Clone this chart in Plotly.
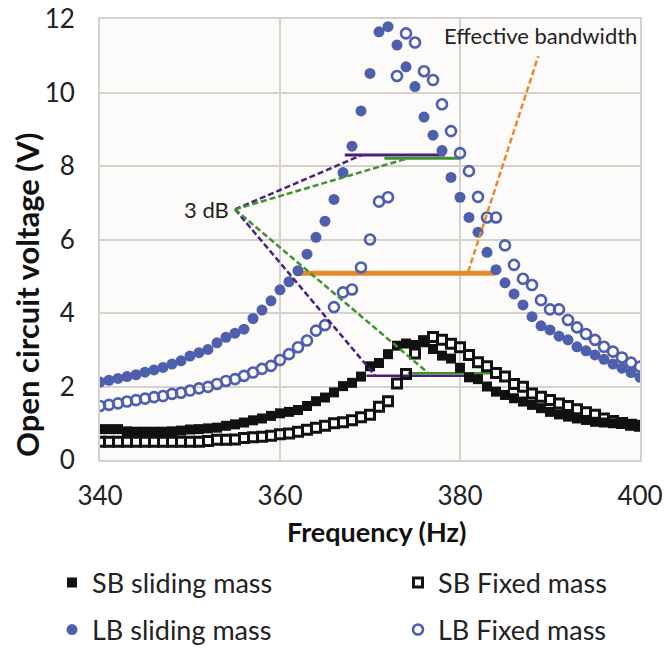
import plotly.graph_objects as go

# ---------------- data ----------------
freq = [340, 341, 342, 343, 344, 345, 346, 347, 348, 349,
        350, 351, 352, 353, 354, 355, 356, 357, 358, 359,
        360, 361, 362, 363, 364, 365, 366, 367, 368, 369,
        370, 371, 372, 373, 374, 375, 376, 377, 378, 379,
        380, 381, 382, 383, 384, 385, 386, 387, 388, 389,
        390, 391, 392, 393, 394, 395, 396, 397, 398, 399, 400]

sb_sliding = [0.84, 0.84, 0.84, 0.78, 0.77, 0.77, 0.77, 0.77, 0.78, 0.80,
              0.83, 0.84, 0.86, 0.88, 0.93, 0.97, 1.02, 1.08, 1.13, 1.20,
              1.27, 1.31, 1.36, 1.47, 1.60, 1.70, 1.84, 2.01, 2.10, 2.27,
              2.55, 2.64, 2.88, 3.11, 3.17, 3.13, 3.25, 3.02, 2.84, 2.76,
              2.51, 2.25, 2.20, 2.00, 1.86, 1.77, 1.68, 1.59, 1.50, 1.41,
              1.31, 1.24, 1.18, 1.13, 1.09, 1.04, 1.02, 1.00, 0.98, 0.95, 0.93]

sb_fixed = [0.50, 0.50, 0.50, 0.50, 0.50, 0.50, 0.50, 0.50, 0.50, 0.50,
            0.50, 0.50, 0.52, 0.55, 0.55, 0.56, 0.60, 0.62, 0.63, 0.66,
            0.70, 0.72, 0.77, 0.82, 0.88, 0.93, 1.00, 1.03, 1.08, 1.16,
            1.23, 1.45, 1.60, 2.08, 2.34, 2.90, 3.23, 3.35, 3.27, 3.16,
            3.07, 2.86, 2.66, 2.55, 2.37, 2.27, 2.07, 1.99, 1.81, 1.72,
            1.63, 1.54, 1.47, 1.38, 1.30, 1.23, 1.13, 1.06, 1.01, 0.96, 0.93]

lb_sliding = [2.12, 2.17, 2.22, 2.27, 2.32, 2.39, 2.45, 2.52, 2.61, 2.70,
              2.83, 2.92, 3.01, 3.19, 3.34, 3.45, 3.56, 3.85, 4.08, 4.33,
              4.63, 4.85, 5.15, 5.60, 6.06, 6.50, 7.09, 7.82, 8.54, 9.50,
              10.52, 11.65, 11.79, 11.29, 10.70, 10.16, 9.33, 8.84, 8.42, 7.69,
              7.15, 6.60, 6.20, 5.65, 5.18, 4.82, 4.52, 4.22, 3.90, 3.65,
              3.54, 3.37, 3.27, 3.08, 2.97, 2.86, 2.74, 2.61, 2.50, 2.38, 2.25]

lb_fixed = [1.47, 1.50, 1.54, 1.59, 1.63, 1.67, 1.71, 1.74, 1.80, 1.83,
            1.89, 1.95, 1.99, 2.07, 2.15, 2.20, 2.29, 2.38, 2.48, 2.56,
            2.72, 2.88, 3.07, 3.25, 3.52, 3.67, 4.16, 4.56, 4.64, 5.24,
            6.00, 7.03, 7.15, 10.45, 11.61, 11.36, 10.58, 10.34, 9.68, 8.95,
            8.35, 7.86, 7.16, 6.60, 6.60, 5.84, 5.31, 4.93, 4.76, 4.35,
            4.10, 4.10, 3.81, 3.61, 3.43, 3.27, 3.08, 2.95, 2.79, 2.65, 2.54]

series_names = ["SB sliding mass", "SB Fixed mass", "LB sliding mass", "LB Fixed mass"]

# 3 dB bandwidth guide lines (frequency, voltage)
lb_sliding_bw_f = [367.2, 378.3]
lb_sliding_bw_v = [8.30, 8.30]
lb_fixed_bw_f = [371.6, 380.0]
lb_fixed_bw_v = [8.21, 8.21]
sb_sliding_bw_f = [369.6, 381.0]
sb_sliding_bw_v = [2.29, 2.29]
sb_fixed_bw_f = [374.2, 383.4]
sb_fixed_bw_v = [2.36, 2.36]
effective_bw_f = [361.8, 383.9]
effective_bw_v = [5.08, 5.08]

label_3db_f, label_3db_v = 355.0, 6.82
leader_sliding_top = (369.1, 8.30)
leader_fixed_top = (374.2, 8.21)
leader_sliding_bot = (370.6, 2.29)
leader_fixed_bot = (376.5, 2.36)
eff_leader_f = [380.9, 388.7]
eff_leader_v = [5.12, 10.99]
eff_label_f, eff_label_v = 388.9, 11.54

# ---------------- styles ----------------
BLUE = "#4e5fae"
PURPLE = "#4b1f80"
GREEN = "#3f9230"
ORANGE = "#e38b2b"
FONT = "Lato"

W, H = 666, 649
L, R, T, B = 100, 26, 19, 189
PW, PH = W - L - R, H - T - B

fig = go.Figure()

# solid bandwidth lines (under markers)
for fx, vy, col, w in [(lb_sliding_bw_f, lb_sliding_bw_v, PURPLE, 3),
                       (lb_fixed_bw_f, lb_fixed_bw_v, GREEN, 3),
                       (sb_sliding_bw_f, sb_sliding_bw_v, PURPLE, 2.5),
                       (sb_fixed_bw_f, sb_fixed_bw_v, GREEN, 2.5),
                       (effective_bw_f, effective_bw_v, ORANGE, 5)]:
    fig.add_trace(go.Scatter(x=fx, y=vy, mode="lines", line=dict(color=col, width=w),
                             showlegend=False, hoverinfo="skip"))

fig.add_trace(go.Scatter(x=freq, y=sb_sliding, mode="markers", name=series_names[0],
                         marker=dict(symbol="square", size=10, color="#111111",
                                     line=dict(width=0)), legend="legend"))
fig.add_trace(go.Scatter(x=freq, y=sb_fixed, mode="markers", name=series_names[1],
                         marker=dict(symbol="square-open", size=9, color="#111111",
                                     line=dict(width=3)), legend="legend3"))
fig.add_trace(go.Scatter(x=freq, y=lb_sliding, mode="markers", name=series_names[2],
                         marker=dict(symbol="circle", size=11, color=BLUE,
                                     line=dict(width=0)), legend="legend2"))
fig.add_trace(go.Scatter(x=freq, y=lb_fixed, mode="markers", name=series_names[3],
                         marker=dict(symbol="circle-open", size=10, color=BLUE,
                                     line=dict(width=2.6)), legend="legend4"))

# dashed leader lines
dash = "6px,3px"
for (tf, tv), col in [(leader_sliding_top, PURPLE), (leader_fixed_top, GREEN),
                      (leader_sliding_bot, PURPLE), (leader_fixed_bot, GREEN)]:
    fig.add_trace(go.Scatter(x=[label_3db_f, tf], y=[label_3db_v, tv], mode="lines",
                             line=dict(color=col, width=2.5, dash=dash),
                             showlegend=False, hoverinfo="skip"))
fig.add_trace(go.Scatter(x=eff_leader_f, y=eff_leader_v, mode="lines",
                         line=dict(color=ORANGE, width=2.5, dash=dash),
                         showlegend=False, hoverinfo="skip"))

fig.add_annotation(x=label_3db_f, y=label_3db_v, text="3 dB", showarrow=False,
                   xanchor="right", yanchor="middle", xshift=-4,
                   font=dict(family=FONT, size=22, color="#222222"))
fig.add_annotation(x=eff_label_f, y=eff_label_v, text="Effective bandwidth", showarrow=False,
                   xanchor="center", yanchor="middle",
                   font=dict(family=FONT, size=22, color="#222222"))
# axis titles placed as in the reference
fig.add_annotation(xref="paper", yref="paper", x=(27 - L) / PW, y=(460 - 295) / PH,
                   text="<b>Open circuit voltage (V)</b>", textangle=-90, showarrow=False,
                   xanchor="center", yanchor="middle",
                   font=dict(family=FONT, size=31, color="#111111"))
fig.add_annotation(xref="paper", yref="paper", x=(376 - L) / PW, y=(460 - 531) / PH,
                   text="<b>Frequency (Hz)</b>", showarrow=False,
                   xanchor="center", yanchor="middle",
                   font=dict(family=FONT, size=27, color="#111111"))

GRID = "#d5d1cc"
fig.update_xaxes(range=[340, 400], tickvals=[340, 360, 380, 400], showgrid=True,
                 gridcolor=GRID, gridwidth=2, showline=True, mirror=True, linecolor=GRID,
                 linewidth=2, zeroline=False, ticks="", ticklabelstandoff=12,
                 automargin=False,
                 tickfont=dict(family=FONT, size=26, color="#222222"))
fig.update_yaxes(range=[0, 12], tickvals=[0, 2, 4, 6, 8, 10, 12], showgrid=True,
                 gridcolor=GRID, gridwidth=2, showline=True, mirror=True, linecolor=GRID,
                 linewidth=2, zeroline=False, ticks="", ticklabelstandoff=18,
                 automargin=False,
                 tickfont=dict(family=FONT, size=26, color="#222222"))

legend_common = dict(orientation="h", xref="container", yref="container",
                     xanchor="left", yanchor="middle",
                     font=dict(family=FONT, size=27, color="#222222"),
                     bgcolor="rgba(0,0,0,0)", itemclick=False, itemdoubleclick=False)
fig.update_layout(
    width=W, height=H,
    margin=dict(l=L, r=R, t=T, b=B, autoexpand=False),
    paper_bgcolor="white", plot_bgcolor="#fcfbf9",
    legend=dict(x=52 / W, y=1 - 583 / H, **legend_common),
    legend3=dict(x=398 / W, y=1 - 583 / H, **legend_common),
    legend2=dict(x=52 / W, y=1 - 630 / H, **legend_common),
    legend4=dict(x=398 / W, y=1 - 630 / H, **legend_common),
)

fig.write_html("out.html", config={"displayModeBar": False},
               post_script="document.body.style.margin='0px';"
                           "document.body.style.overflow='hidden';")
